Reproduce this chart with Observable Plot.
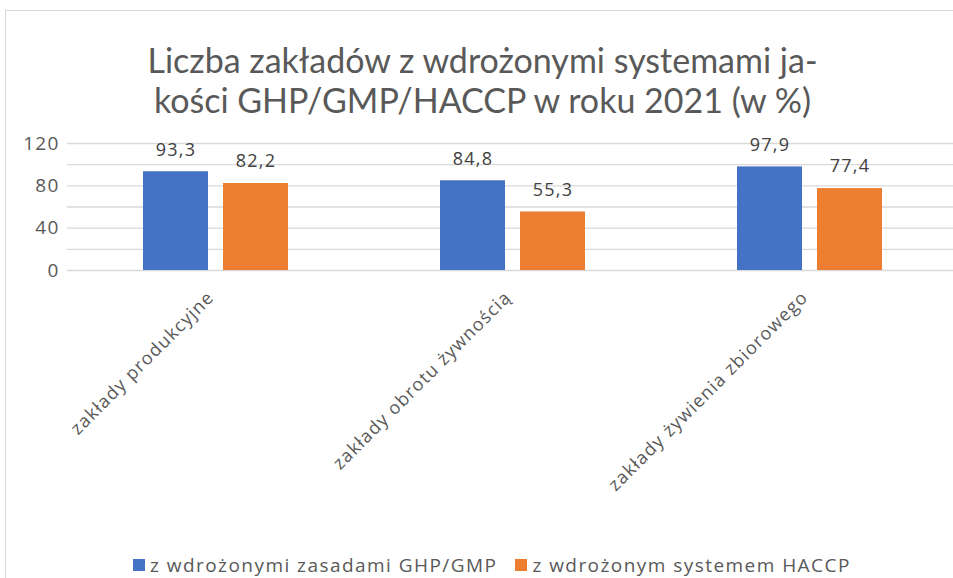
<!DOCTYPE html>
<html><head><meta charset="utf-8">
<script src="https://cdn.jsdelivr.net/npm/d3@7"></script>
<script src="https://cdn.jsdelivr.net/npm/@observablehq/plot@0.6"></script>
<style>
body{margin:0;background:#fff;}
#wrap{position:relative;width:953px;height:578px;overflow:hidden;font-family:"Open Sans",sans-serif;}
#frame{position:absolute;left:5px;top:10px;width:1000px;height:1000px;border:1px solid #d9d9d9;}
#title{position:absolute;left:0;top:40px;width:965px;text-align:center;font-family:Lato,sans-serif;font-size:34px;line-height:40px;color:#595959;}
#chart{position:absolute;left:0;top:125px;}
#legend{position:absolute;left:133px;top:552px;font-size:19px;letter-spacing:1.45px;color:#595959;display:flex;align-items:center;white-space:nowrap;}
.sw{display:inline-block;width:12px;height:12px;margin-right:5px;}
.item{display:flex;align-items:center;margin-right:18px;}
</style></head>
<body>
<div id="wrap">
<div id="frame"></div>
<div id="title">Liczba zakładów z wdrożonymi systemami ja-<br>kości GHP/GMP/HACCP w roku 2021 (w %)</div>
<div id="chart"></div>
<div id="legend"></div>
</div>
<script>
const categories = ["zakłady produkcyjne", "zakłady obrotu żywnością", "zakłady żywienia zbiorowego"];
const seriesNames = ["z wdrożonymi zasadami GHP/GMP", "z wdrożonym systemem HACCP"];
const ghpGmp = [93.3, 84.8, 97.9];
const haccp = [82.2, 55.3, 77.4];
const colors = ["#4472C4", "#ED7D31"];
const yTicks = [0, 40, 80, 120];
const yGrid = [0, 20, 40, 60, 80, 100, 120];

const data = categories.flatMap((c, i) => [
  {cat: c, series: seriesNames[0], value: ghpGmp[i]},
  {cat: c, series: seriesNames[1], value: haccp[i]}
]);

const chart = Plot.plot({
  width: 953,
  height: 400,
  marginLeft: 68,
  marginRight: 5,
  marginTop: 18,
  marginBottom: 255,
  style: {fontFamily: "'Open Sans', sans-serif", overflow: "visible", letterSpacing: "1.2px"},
  fx: {domain: categories, range: [66, 959], paddingInner: 0, paddingOuter: 0, label: null},
  x: {domain: seriesNames, paddingInner: 0.19, paddingOuter: 0.93, axis: null},
  y: {domain: [0, 120], label: null},
  color: {domain: seriesNames, range: colors},
  marks: [
    Plot.ruleY(yGrid, {stroke: "#d9d9d9", strokeWidth: 1.3}),
    Plot.barY(data, {fx: "cat", x: "series", y: "value", fill: "series"}),
    Plot.text(data, {fx: "cat", x: "series", y: "value", text: d => d.value.toFixed(1).replace(".", ","), dy: -22, fontSize: 18, fill: "#404040"}),
    Plot.axisY({ticks: yTicks, tickSize: 0, tickPadding: 8, fontSize: 19, fill: "#595959", label: null}),
    Plot.axisFx({anchor: "bottom", tickRotate: -45, tickSize: 0, tickPadding: 24, dx: -5, fontSize: 18, fill: "#595959", label: null})
  ]
});
document.getElementById("chart").appendChild(chart);

const legend = document.getElementById("legend");
seriesNames.forEach((s, i) => {
  const it = document.createElement("div");
  it.className = "item";
  it.innerHTML = `<span class="sw" style="background:${colors[i]}"></span><span>${s}</span>`;
  legend.appendChild(it);
});
</script>
</body></html>
